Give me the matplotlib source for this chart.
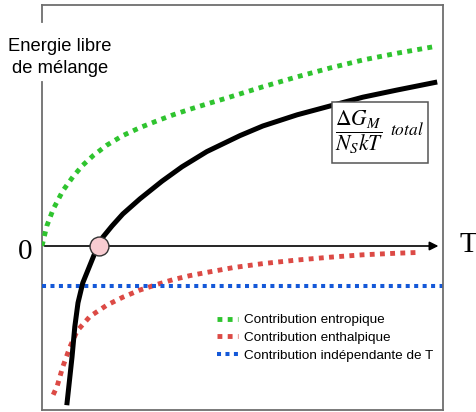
"""
Energie libre de mélange vs T: entropic, enthalpic and T-independent
contributions plus the total curve (schematic).
"""
import matplotlib
matplotlib.use("Agg")
import matplotlib.pyplot as plt
from matplotlib.patches import Rectangle

# schematic curves, x = T (arbitrary units), y = energy (arbitrary units)
t_entropic = [0, 0.12, 0.28, 0.52, 0.78, 1.02, 1.28, 1.62, 2.02, 2.45, 2.88,
              3.28, 3.7, 4.12, 4.62, 5.52, 6.38, 7.2, 8.02, 8.88, 9.78]
g_entropic = [0, 0.5, 0.92, 1.38, 1.74, 2.02, 2.26, 2.52, 2.76, 2.96, 3.13,
              3.28, 3.42, 3.55, 3.7, 3.98, 4.23, 4.45, 4.65, 4.82, 4.98]

t_enthalpic = [0.28, 0.38, 0.52, 0.7, 0.88, 1.2, 1.62, 2.02, 2.45, 2.88,
               3.28, 3.7, 4.12, 4.78, 5.52, 6.38, 7.2, 8.02, 8.88, 9.45]
g_enthalpic = [-3.72, -3.5, -3.02, -2.52, -2.12, -1.76, -1.48, -1.28, -1.1, -0.96,
               -0.84, -0.74, -0.66, -0.54, -0.44, -0.35, -0.28, -0.22, -0.18, -0.16]

t_const = [0, 10.02]
g_const = [-1.0, -1.0]

t_total = [0.62, 0.75, 0.82, 0.9, 1.02, 1.32, 1.43, 1.52, 1.75, 2.02, 2.45, 3.0,
           3.5, 4.12, 4.95, 5.52, 6.38, 7.2, 8.02, 8.88, 9.88]
g_total = [-3.98, -2.78, -2.02, -1.42, -0.92, -0.18, 0.0, 0.22, 0.5, 0.8, 1.18, 1.62,
           1.98, 2.36, 2.76, 3.0, 3.28, 3.5, 3.72, 3.9, 4.1]

t_cross, g_cross = 1.43, 0.0

labels = ["Contribution entropique", "Contribution enthalpique",
          "Contribution indépendante de T"]
colors = ["#2fc42f", "#dc4a45", "#1458d8"]

# formula box (data units)
box_x, box_y, box_w, box_h = 7.25, 2.075, 2.4, 1.525

plt.rcParams["mathtext.fontset"] = "stix"

fig = plt.figure(figsize=(4.76, 4.12), dpi=100)
ax = fig.add_axes([42 / 476, 2 / 412, 401 / 476, 405 / 412])
ax.set_xlim(0, 10.025)
ax.set_ylim(-4.1, 6.025)
ax.set_xticks([])
ax.set_yticks([])
for side in ["top", "right", "bottom"]:
    ax.spines[side].set_color("#6e6e6e")
    ax.spines[side].set_linewidth(1.3)
ax.spines["left"].set_visible(False)
# left frame with a gap for the axis title
ax.axvline(0, 0, 0.81, color="#6e6e6e", lw=1.3, clip_on=False)
ax.axvline(0, 0.958, 1, color="#6e6e6e", lw=1.3, clip_on=False)

# T axis
ax.annotate("", xy=(9.98, 0), xytext=(0, 0),
            arrowprops=dict(arrowstyle="-|>", color="black", lw=1.2, mutation_scale=13))

ax.plot(t_entropic, g_entropic, color=colors[0], lw=3.5, dashes=(1, 1.1), label=labels[0])
ax.plot(t_enthalpic, g_enthalpic, color=colors[1], lw=3.5, dashes=(1, 1.1), label=labels[1])
ax.plot(t_const, g_const, color=colors[2], lw=2.9, dashes=(1, 1.1), label=labels[2])
ax.plot(t_total, g_total, color="black", lw=3.6, solid_capstyle="butt",
        solid_joinstyle="round")
ax.scatter([t_cross], [g_cross], s=185, facecolor="#f8ccd1", edgecolor="#333333",
           lw=1.0, zorder=5)

ax.text(0.45, 4.72, "Energie libre\nde mélange", ha="center", va="center",
        fontsize=13.2, family="Liberation Sans", linespacing=1.4)
ax.text(-0.42, -0.15, "0", ha="center", va="center", fontsize=21,
        family="Liberation Serif", clip_on=False)
ax.text(10.65, 0.02, "T", ha="center", va="center", fontsize=21,
        family="Liberation Serif", clip_on=False)

ax.add_patch(Rectangle((box_x, box_y), box_w, box_h, facecolor="white",
                       edgecolor="#555555", lw=1.1, zorder=6))
ax.text(7.93, 2.84, r"$\dfrac{\Delta G_M}{N_S kT}$", ha="center", va="center",
        fontsize=15.5, zorder=7)
ax.text(9.13, 2.9, r"$total$", ha="center", va="center", fontsize=12.5, zorder=7)

leg = ax.legend(loc="upper left", bbox_to_anchor=(0.436, 0.237), frameon=False,
                borderpad=0, borderaxespad=0, handlelength=1.6, handletextpad=0.45,
                labelspacing=0.38, prop={"family": "Liberation Sans", "size": 9.7})

fig.savefig("out.png", dpi=100)
